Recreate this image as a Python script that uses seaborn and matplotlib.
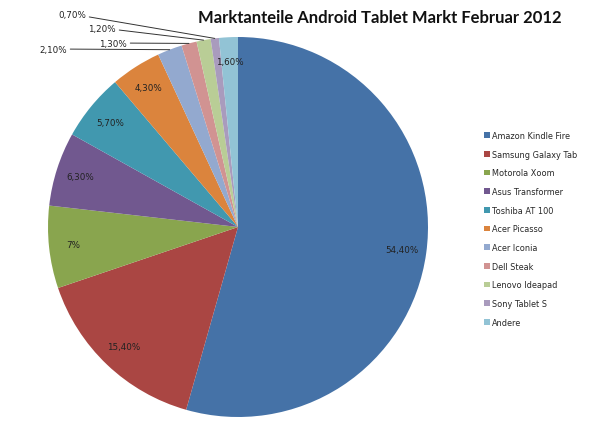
import numpy as np
import seaborn as sns
import matplotlib.pyplot as plt

sns.set_theme(style="white")
plt.rcParams["font.family"] = ["DejaVu Sans"]

products = ["Amazon Kindle Fire", "Samsung Galaxy Tab", "Motorola Xoom",
            "Asus Transformer", "Toshiba AT 100", "Acer Picasso", "Acer Iconia",
            "Dell Steak", "Lenovo Ideapad", "Sony Tablet S", "Andere"]
shares = [54.4, 15.4, 7.0, 6.3, 5.7, 4.3, 2.1, 1.3, 1.2, 0.7, 1.6]
share_labels = ["54,40%", "15,40%", "7%", "6,30%", "5,70%", "4,30%",
                "2,10%", "1,30%", "1,20%", "0,70%", "1,60%"]
colors = ["#4572A7", "#AA4643", "#89A54E", "#71588F", "#4198AF", "#DB843D",
          "#93A9CF", "#D19392", "#B9CD96", "#A99BBD", "#92C3D5"]

# pixel layout helpers (figure is 590x435, pie centre ~ (238,228), radius ~190)
CX, CY, R = 238, 228, 190
def px(x, y):
    return (x - CX) / R, (CY - y) / R

fig = plt.figure(figsize=(5.9, 4.35), dpi=100)
ax = fig.add_axes([0, 0, 1, 1])

wedges, _ = ax.pie(shares, colors=colors, startangle=90, counterclock=False,
                   radius=1.0, wedgeprops=dict(edgecolor="none"))
ax.set_aspect("auto")
ax.set_xlim(-CX / R, (590 - CX) / R)
ax.set_ylim((CY - 435) / R, CY / R)
ax.axis("off")

outside = {6: (67, 50), 7: (127, 44), 8: (116, 29), 9: (86, 15)}
for i, w in enumerate(wedges):
    mid = np.deg2rad((w.theta1 + w.theta2) / 2)
    if i in outside:
        tx, ty = px(*outside[i])
        ax.annotate(share_labels[i], xy=(np.cos(mid), np.sin(mid)), xytext=(tx, ty),
                    ha="right", va="center", fontsize=6.3, color="#222222",
                    arrowprops=dict(arrowstyle="-", color="#333333", lw=0.7,
                                    shrinkA=0, shrinkB=0))
    else:
        r = 0.87
        ax.text(r * np.cos(mid), r * np.sin(mid), share_labels[i], ha="center",
                va="center", fontsize=6.3, color="#222222")

fig.text(380 / 590, 1 - 18 / 435, "Marktanteile Android Tablet Markt Februar 2012",
         ha="center", va="center", fontsize=12, fontweight="bold",
         family=["Lato", "DejaVu Sans"], color="#111111")

ax.legend(wedges, products, loc="upper left", bbox_to_anchor=(484 / 590, 1 - 132 / 435),
          bbox_transform=fig.transFigure, frameon=False, fontsize=5.9,
          handlelength=0.7, handleheight=0.7, handletextpad=0.3,
          labelspacing=1.18, borderaxespad=0, borderpad=0)

fig.savefig("out.png", dpi=100)
